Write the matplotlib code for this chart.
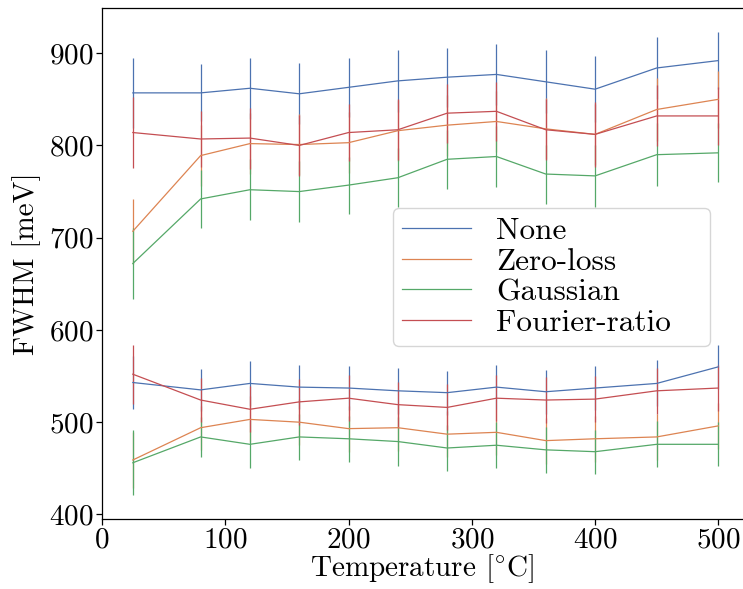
import matplotlib
matplotlib.use('Agg')
import matplotlib.pyplot as plt

plt.rcParams['font.family'] = 'serif'
plt.rcParams['font.serif'] = ['cmr10']
plt.rcParams['mathtext.fontset'] = 'cm'
plt.rcParams['axes.formatter.use_mathtext'] = True

temps = [25, 80, 120, 160, 200, 240, 280, 320, 360, 400, 450, 500]
labels = ['None', 'Zero-loss', 'Gaussian', 'Fourier-ratio']
colors = ['#4C72B0', '#DD8452', '#55A868', '#C44E52']

# upper peak
none_hi = [857, 857, 862, 856, 863, 870, 874, 877, 869, 861, 884, 892]
none_hi_err = [38, 31, 33, 33, 32, 34, 32, 33, 34, 36, 34, 31]
zl_hi = [707, 789, 802, 801, 803, 816, 822, 826, 818, 812, 839, 850]
zl_hi_err = [35, 33, 33, 33, 33, 33, 33, 33, 33, 33, 34, 31]
gauss_hi = [672, 742, 752, 750, 757, 765, 785, 788, 769, 767, 790, 792]
gauss_hi_err = [39, 31, 33, 33, 31, 32, 32, 33, 32, 34, 34, 32]
fr_hi = [814, 807, 808, 800, 814, 817, 835, 837, 817, 812, 832, 832]
fr_hi_err = [38, 30, 33, 33, 31, 33, 32, 32, 33, 35, 33, 31]

# lower peak
none_lo = [543, 535, 542, 538, 537, 534, 532, 538, 533, 537, 542, 560]
none_lo_err = [29, 23, 24, 24, 24, 25, 24, 24, 24, 24, 25, 24]
zl_lo = [459, 494, 503, 500, 493, 494, 487, 489, 480, 482, 484, 496]
zl_lo_err = [30, 24, 25, 25, 25, 25, 25, 25, 25, 25, 25, 25]
gauss_lo = [456, 484, 476, 484, 482, 479, 472, 475, 470, 468, 476, 476]
gauss_lo_err = [35, 22, 26, 25, 25, 27, 25, 25, 25, 24, 25, 24]
fr_lo = [552, 524, 514, 522, 526, 519, 516, 526, 524, 525, 534, 537]
fr_lo_err = [32, 24, 25, 25, 25, 25, 25, 25, 25, 25, 25, 25]

hi = [(none_hi, none_hi_err), (zl_hi, zl_hi_err), (gauss_hi, gauss_hi_err), (fr_hi, fr_hi_err)]
lo = [(none_lo, none_lo_err), (zl_lo, zl_lo_err), (gauss_lo, gauss_lo_err), (fr_lo, fr_lo_err)]

fig = plt.figure(figsize=(7.43, 5.89), dpi=100)
ax = fig.add_axes([0.1373, 0.1188, 0.8627, 0.8676])

handles = []
for k in range(4):
    c = ax.errorbar(temps, hi[k][0], yerr=hi[k][1], color=colors[k], lw=0.9, elinewidth=0.9, capsize=0)
    handles.append(c[0])
for k in range(4):
    ax.errorbar(temps, lo[k][0], yerr=lo[k][1], color=colors[k], lw=0.9, elinewidth=0.9, capsize=0)

ax.set_xlim(0, 520)
ax.set_ylim(395, 949)
ax.set_xticks([0, 100, 200, 300, 400, 500])
ax.set_yticks([400, 500, 600, 700, 800, 900])
ax.tick_params(labelsize=21, direction='out', length=4, width=0.9, pad=2)
ax.spines['right'].set_visible(False)
for s in ['left', 'bottom', 'top']:
    ax.spines[s].set_linewidth(0.9)

ax.set_xlabel(r'Temperature [$^{\circ}$C]', fontsize=21, labelpad=-1)
ax.set_ylabel('FWHM [meV]', fontsize=21, labelpad=6)

# legend box stretched to the reference width
ax.legend(handles, labels, fontsize=22.5, loc='upper left', bbox_to_anchor=(0.454, 0.5086, 0.4945, 0.1),
          mode='expand', borderaxespad=0, handlelength=2.2, handletextpad=0.8, labelspacing=0.08,
          borderpad=0.3, fancybox=True, framealpha=0.8, edgecolor='0.8')

fig.savefig('out.png', dpi=100)
